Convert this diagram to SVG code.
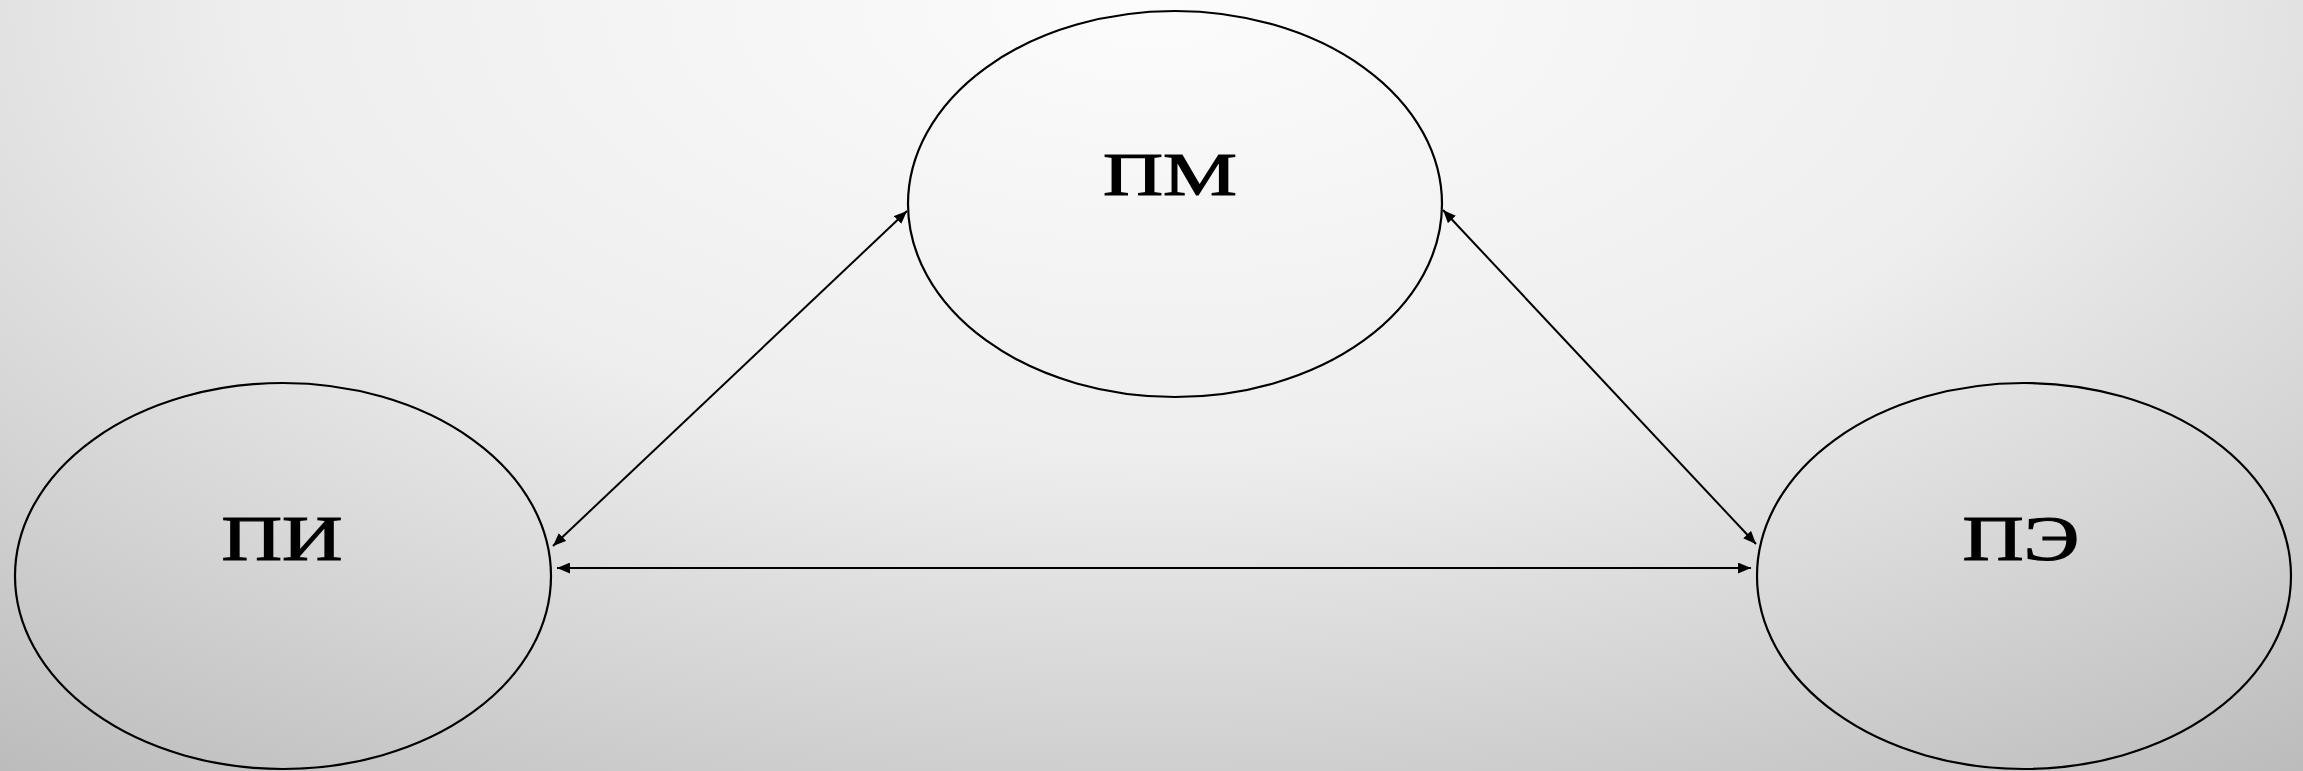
<svg xmlns="http://www.w3.org/2000/svg" width="2303" height="771" viewBox="0 0 2303 771">
  <defs>
    <radialGradient id="bg" gradientUnits="userSpaceOnUse" cx="1150" cy="0" r="1000" gradientTransform="translate(1150 0) scale(2 1) translate(-1150 0)">
      <stop offset="0" stop-color="#fcfcfc"/>
      <stop offset="0.45" stop-color="#eeeeee"/>
      <stop offset="0.72" stop-color="#d4d4d4"/>
      <stop offset="1" stop-color="#b8b8b8"/>
    </radialGradient>
    <marker id="arr" viewBox="0 0 12 10" refX="12" refY="5" markerWidth="13" markerHeight="11" markerUnits="userSpaceOnUse" orient="auto-start-reverse">
      <path d="M0,0 L12,5 L0,10 Z" fill="#000"/>
    </marker>
  </defs>
  <style>
    .node { fill: none; stroke: #000; stroke-width: 2.2; }
    .lbl { font-family: "Liberation Serif", "DejaVu Serif", serif; font-size: 61px; fill: #000; stroke: #000; stroke-width: 1.2; text-anchor: middle; }
    .conn { stroke: #000; stroke-width: 2; fill: none; marker-start: url(#arr); marker-end: url(#arr); }
  </style>
  <rect x="0" y="0" width="2303" height="771" fill="url(#bg)"/>
  <g id="connectors">
    <line class="conn" x1="553" y1="546" x2="907" y2="211"/>
    <line class="conn" x1="1443" y1="210" x2="1756" y2="544"/>
    <line class="conn" x1="557" y1="568" x2="1751" y2="568"/>
  </g>
  <g id="node-pm">
    <ellipse class="node" cx="1175" cy="204" rx="267" ry="193"/>
    <text class="lbl" x="1170" y="195" textLength="134" lengthAdjust="spacingAndGlyphs">ПМ</text>
  </g>
  <g id="node-pi">
    <ellipse class="node" cx="283" cy="576" rx="268" ry="193"/>
    <text class="lbl" x="282" y="560" textLength="121" lengthAdjust="spacingAndGlyphs" style="font-size:63px">ПИ</text>
  </g>
  <g id="node-pe">
    <ellipse class="node" cx="2024" cy="576" rx="267" ry="193"/>
    <text class="lbl" x="2021" y="560" textLength="117" lengthAdjust="spacingAndGlyphs" style="font-size:63px">ПЭ</text>
  </g>
</svg>
